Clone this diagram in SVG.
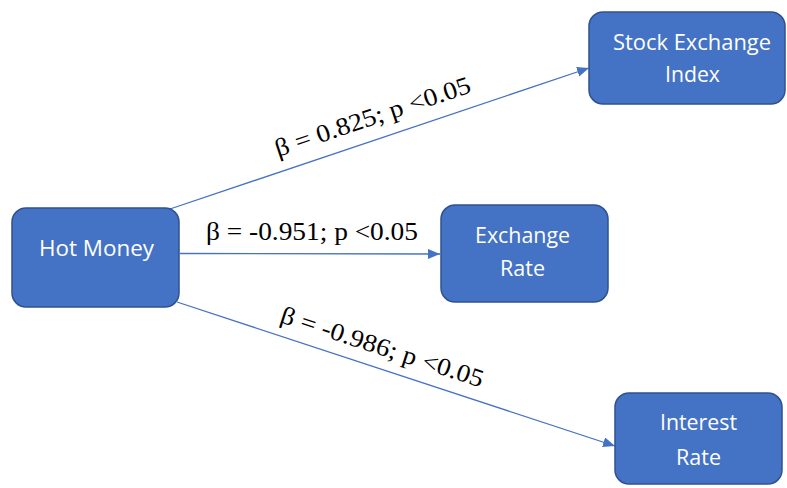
<svg xmlns="http://www.w3.org/2000/svg" width="787" height="488" viewBox="0 0 787 488">
<style>
.box{fill:#4472C4;stroke:#2F528F;stroke-width:1.5}
.nt{font-family:"Open Sans","Liberation Sans",sans-serif;font-size:21px;fill:#FFFFFF;text-anchor:start}
.lbl{font-family:"Liberation Serif","Times New Roman",serif;font-size:25px;fill:#000000}
.conn{stroke:#4472C4;stroke-width:1.3;fill:none;marker-end:url(#arr)}
</style>
<defs>
<marker id="arr" markerUnits="userSpaceOnUse" markerWidth="14" markerHeight="12" refX="12" refY="5" orient="auto">
<path d="M0,0 L12,5 L0,10 Z" fill="#4472C4"/>
</marker>
</defs>
<rect width="787" height="488" fill="#FFFFFF"/>
<g id="connectors">
<line class="conn" x1="170" y1="209" x2="589" y2="68"/>
<line class="conn" x1="180" y1="253.5" x2="440" y2="254"/>
<line class="conn" x1="177" y1="302" x2="615" y2="446"/>
<text class="lbl" transform="translate(278,157) rotate(-18.5)" textLength="205" lengthAdjust="spacingAndGlyphs">β = 0.825; p &lt;0.05</text>
<text class="lbl" x="206" y="240" textLength="212" lengthAdjust="spacingAndGlyphs">β = -0.951; p &lt;0.05</text>
<text class="lbl" transform="translate(279,322) rotate(18)" textLength="212" lengthAdjust="spacingAndGlyphs">β = -0.986; p &lt;0.05</text>
</g>
<g id="hot-money">
<rect class="box" x="12" y="208" width="167" height="99" rx="14"/>
<text class="nt" x="39" y="256" textLength="115" lengthAdjust="spacingAndGlyphs">Hot Money</text>
</g>
<g id="stock-exchange-index">
<rect class="box" x="589" y="12" width="196" height="92" rx="14"/>
<text class="nt" x="613" y="50" textLength="158" lengthAdjust="spacingAndGlyphs">Stock Exchange</text>
<text class="nt" x="665" y="82" textLength="55" lengthAdjust="spacingAndGlyphs">Index</text>
</g>
<g id="exchange-rate">
<rect class="box" x="441" y="205" width="167" height="97" rx="14"/>
<text class="nt" x="475" y="243" textLength="95" lengthAdjust="spacingAndGlyphs">Exchange</text>
<text class="nt" x="500" y="276" textLength="45" lengthAdjust="spacingAndGlyphs">Rate</text>
</g>
<g id="interest-rate">
<rect class="box" x="615" y="393" width="167" height="91" rx="14"/>
<text class="nt" x="660" y="430" textLength="77" lengthAdjust="spacingAndGlyphs">Interest</text>
<text class="nt" x="676" y="465" textLength="45" lengthAdjust="spacingAndGlyphs">Rate</text>
</g>
</svg>
